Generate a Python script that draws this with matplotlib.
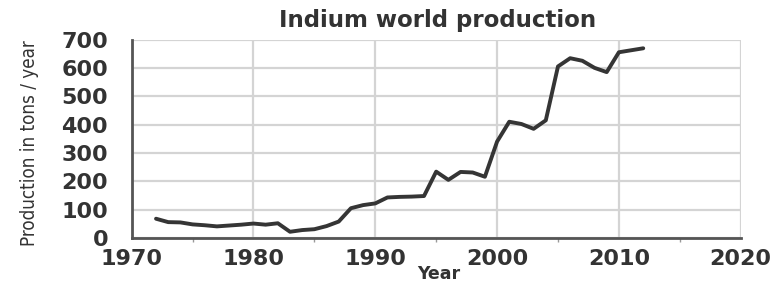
import matplotlib
matplotlib.use("Agg")
import matplotlib.pyplot as plt
from matplotlib.ticker import MultipleLocator

years = [1972, 1973, 1974, 1975, 1976, 1977, 1978, 1979, 1980, 1981,
         1982, 1983, 1984, 1985, 1986, 1987, 1988, 1989, 1990, 1991,
         1992, 1993, 1994, 1995, 1996, 1997, 1998, 1999, 2000, 2001,
         2002, 2003, 2004, 2005, 2006, 2007, 2008, 2009, 2010, 2011, 2012]
production = [68, 56, 55, 48, 45, 41, 44, 47, 51, 47,
              52, 22, 28, 31, 42, 58, 105, 116, 122, 143,
              145, 146, 148, 234, 205, 233, 231, 216, 340, 410,
              402, 385, 415, 605, 634, 625, 600, 585, 655, 662, 669]

x_ticks = [1970, 1980, 1990, 2000, 2010, 2020]
y_ticks = [0, 100, 200, 300, 400, 500, 600, 700]

title = "Indium world production"
xlabel = "Year"
ylabel = "Production in tons / year"

fig = plt.figure(figsize=(7.8, 2.85), dpi=100)
ax = fig.add_axes([0.1688, 0.1649, 0.7808, 0.6965])

ax.plot(years, production, color="#353535", lw=2.8, solid_joinstyle="round",
        solid_capstyle="round", zorder=3)

ax.set_xlim(1970, 2020)
ax.set_ylim(0, 700)
ax.set_xticks(x_ticks)
ax.set_yticks(y_ticks)
ax.xaxis.set_minor_locator(MultipleLocator(5))

ax.grid(True, which="major", color="#d4d4d4", lw=1.6, zorder=0)
for s in ["top", "right"]:
    ax.spines[s].set_visible(False)
for s in ["left", "bottom"]:
    ax.spines[s].set_color("#555555")
    ax.spines[s].set_linewidth(2.0)

ax.tick_params(axis="both", which="major", length=0, colors="#333333")
ax.tick_params(axis="x", which="major", pad=8)
ax.tick_params(axis="y", which="major", pad=17)
ax.tick_params(axis="x", which="minor", length=3, width=1, color="#999999")
for lab in ax.get_xticklabels() + ax.get_yticklabels():
    lab.set_fontfamily("DejaVu Sans")
    lab.set_fontweight("bold")
    lab.set_fontsize(16)
    lab.set_color("#333333")

ax.set_xlabel(xlabel, fontsize=12.5, fontweight="bold", color="#333333",
              family=["DejaVu Sans"])
ax.xaxis.set_label_coords(0.504, -0.135)

ax.set_ylabel(ylabel, fontsize=13.5, color="#333333", fontstretch="condensed",
              family=["DejaVu Sans"])
ax.yaxis.set_label_coords(-0.152, 0.476)

ax.text(0.502, 1.063, title, transform=ax.transAxes, ha="center", va="baseline",
        fontsize=16.5, fontweight="bold", color="#333333", family=["DejaVu Sans"])

fig.savefig("out.png", dpi=100, facecolor="white")
